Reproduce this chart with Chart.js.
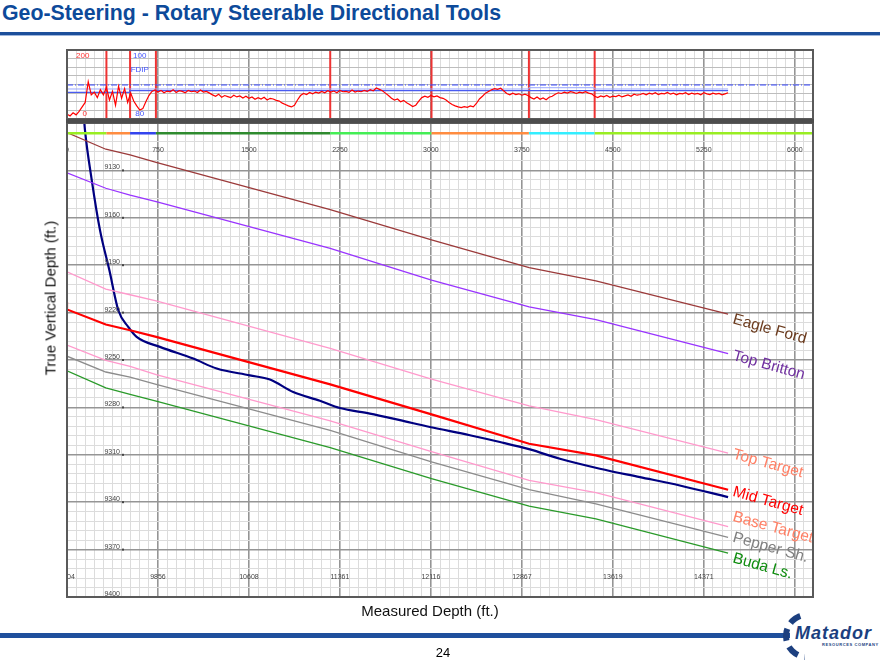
<!DOCTYPE html>
<html>
<head>
<meta charset="utf-8">
<script src="https://cdn.jsdelivr.net/npm/chart.js@4.4.0/dist/chart.umd.min.js"></script>
<style>
body { margin:0; width:880px; height:660px; background:#fff; position:relative; overflow:hidden; font-family: Arial, "Liberation Sans", sans-serif; }
.abs { position:absolute; }
#title { left:2px; top:1px; font-size:21.3px; font-weight:bold; color:#0d4a9a; white-space:nowrap; }
#titleLine { left:0; top:32px; width:880px; height:3px; background:#1d4f9b; }
#titleLine2 { left:0; top:35px; width:880px; height:1px; background:#9fb6dc; }
#trackBox { left:57px; top:40px; width:766px; height:89px; }
#mainBox { left:57px; top:113px; width:766px; height:494px; }
#band { left:66px; top:119px; width:748px; height:4px; background:#4d4d4d; }
#yTitle { left:50px; top:298px; transform: translate(-50%,-50%) rotate(-90deg); font-size:15px; white-space:nowrap; color:#111; }
#xTitle { left:430px; top:610px; transform: translate(-50%,-50%); font-size:15px; white-space:nowrap; color:#111; }
#footLine { left:0; top:633px; width:790px; height:5px; background:#1f4f9c; }
#pageNum { left:443px; top:652px; transform:translate(-50%,-50%); font-size:13px; }
#logoRing { left:783px; top:612px; width:36px; height:36px; border:6px dashed #1c3f7f; border-radius:50%; clip-path: inset(0 55% 0 0); }
#logoText { left:795px; top:623px; font-size:18px; font-weight:bold; font-style:italic; letter-spacing:1px; color:#1c3f7f; }
#logoSub { left:822px; top:642px; font-size:4px; font-weight:bold; letter-spacing:0.6px; color:#1c3f7f; white-space:nowrap; }
</style>
</head>
<body>
<div class="abs" id="title">Geo-Steering - Rotary Steerable Directional Tools</div>
<div class="abs" id="titleLine"></div>
<div class="abs" id="titleLine2"></div>

<div class="abs" id="mainBox"><canvas id="mainChart"></canvas></div>
<div class="abs" id="trackBox"><canvas id="trackChart"></canvas></div>
<div class="abs" id="band"></div>

<div class="abs" id="yTitle">True Vertical Depth (ft.)</div>
<div class="abs" id="xTitle">Measured Depth (ft.)</div>

<div class="abs" id="footLine"></div>
<div class="abs" id="pageNum">24</div>
<div class="abs" id="logoRing"></div>
<div class="abs" id="logoText">Matador</div>
<div class="abs" id="logoSub">RESOURCES COMPANY</div>

<script>
// ---------------- data ----------------

// axis ticks
var mdTicks = [0, 750, 1500, 2250, 3000, 3750, 4500, 5250, 6000];
var mdBottomLabels = ['9104', '9856', '10608', '11361', '12116', '12867', '13619', '14371'];
var tvdTicks = [9130, 9160, 9190, 9220, 9250, 9280, 9310, 9340, 9370, 9400];

// formation tops (first point is the little stub at the left edge)
var formMd = [0, 0, 320, 520, 735, 2170, 3005, 3810, 4360, 5450];
var eagleFord  = [9103.0, 9106.1, 9116.6, 9120.2, 9124.9, 9154.8, 9173.9, 9191.5, 9199.9, 9221.0];
var topBritton = [9126.6, 9131.5, 9141.3, 9145.6, 9149.8, 9179.4, 9199.5, 9216.4, 9224.4, 9245.9];
var topTarget  = [9189.3, 9194.2, 9205.2, 9208.7, 9212.6, 9242.6, 9262.1, 9279.1, 9287.7, 9308.9];
var midTarget  = [9213.2, 9218.0, 9227.5, 9231.2, 9235.4, 9265.4, 9284.4, 9303.0, 9310.4, 9332.1];
var baseTarget = [9236.2, 9240.6, 9250.2, 9254.0, 9259.2, 9288.6, 9308.0, 9326.2, 9334.0, 9355.4];
var pepperSh   = [9243.8, 9247.6, 9257.6, 9260.9, 9265.4, 9294.5, 9314.5, 9332.1, 9341.0, 9362.2];
var budaLs     = [9253.3, 9256.9, 9267.7, 9271.7, 9276.0, 9305.5, 9325.1, 9342.5, 9350.5, 9372.3];

var formNames  = ['Eagle Ford', 'Top Britton', 'Top Target', 'Mid Target', 'Base Target', 'Pepper Sh.', 'Buda Ls.'];
var formValues = [eagleFord, topBritton, topTarget, midTarget, baseTarget, pepperSh, budaLs];
var formLineColors = ['#9b3a3a', '#9933ff', '#ff99cc', '#ff0000', '#ff99cc', '#8c8c8c', '#2a9a2a'];
var formTextColors = ['#6b3b1e', '#7030a0', '#ff8066', '#ff0000', '#ff8066', '#7f7f7f', '#0e8c0e'];
var formWidths = [1.3, 1.3, 1.3, 2.2, 1.3, 1.3, 1.3];
// name labels sit a little off the line end (pixels, down is +)
var formLabelDy = [5, 2, 1, 2, -10, 0, 5];

// well path
var wellMd  = [128, 148, 204, 272, 349, 423, 505, 574, 766, 1041, 1234, 1508, 1673, 1865, 2085, 2250, 2497, 2745, 2992, 3321, 3569, 3816, 4063, 4393, 4723, 5052, 5450];
var wellTvd = [9085.4, 9104.4, 9136.1, 9167.8, 9193.1, 9218.5, 9229.1, 9235.4, 9241.7, 9249.1, 9255.4, 9259.7, 9262.4, 9270.3, 9275.8, 9280.4, 9283.9, 9288.1, 9292.4, 9297.6, 9301.9, 9306.6, 9312.5, 9318.8, 9324.1, 9329.4, 9336.8];

// zone breaks (red lines in the log track, coloured strip in the section)
var zoneMd = [0, 325, 520, 733, 2170, 3005, 3808, 4350, 6150];
var zoneColors = ['#99ee22', '#ff8c40', '#3344ee', '#2e8b2e', '#44ee55', '#ff8c40', '#33eeff', '#99ee22'];
var stripTvd = 9106.5;

// gamma ray, one reading every 25 ft from 0 to 5450
var gammaStep = 25;
var gammaValues = [
  14, 9, 18, 12, 22, 35, 48, 108, 70, 78, 62, 85, 70,
  92, 55, 80, 40, 95, 60, 88, 48, 75, 52, 38, 26, 30,
  50, 68, 80, 84,
  78, 83, 76, 81, 79, 85, 77, 82, 80, 76, 83, 79, 81, 77, 84, 78, 80, 75,
  70, 66, 72, 63, 68, 65, 62, 69, 64, 67, 61, 66,
  60, 64, 57, 62, 58, 63, 55, 60, 58, 54, 52,
  46, 42, 38, 35, 40,
  55, 68, 74, 71, 77, 73, 78, 75, 80, 76,
  82, 78, 81, 76, 83, 79, 80, 77, 84, 78, 81, 79, 83, 80, 85, 82,
  90, 86, 82, 75, 68,
  60, 55, 58, 50, 54, 47, 42,
  36, 40, 52,
  62, 66, 63, 68, 64, 67, 62, 60,
  55, 48, 42, 38, 35, 33, 36, 34, 38, 35,
  45, 58, 66, 75, 80, 85, 88, 86, 89, 82,
  74, 70, 75, 71, 73, 69, 72, 68,
  62, 58, 64, 57, 61, 56, 63, 66,
  72, 76, 74, 78, 75, 79, 77, 74, 78, 76, 79, 75, 73,
  66, 62, 67, 64, 68, 63, 66, 65, 69, 64, 67, 70, 66, 72, 69, 71,
  74, 70, 75, 72, 76, 71, 74, 73, 77, 72, 75, 70, 74, 73, 76, 71, 75, 72, 74, 70, 76, 73, 71, 75, 72, 74, 70, 73, 76
];

// formation dip track
var fdipRefMd = [0, 6150];
var fdipRef = [89.86, 89.86];
var fdipUpperMd = [0, 3808, 4346, 5450];
var fdipUpper = [88.70, 89.07, 88.70, 88.70];
var fdipLowerMd = [0, 519, 5450];
var fdipLower = [87.74, 88.20, 88.20];

// ------------------------------------------------------------

function pairs(xs, ys) {
  var out = [];
  for (var i = 0; i < xs.length; i++) out.push({x: xs[i], y: ys[i]});
  return out;
}

function isMajor(v, base, every) {
  var r = (v - base) / every;
  return Math.abs(r - Math.round(r)) < 1e-6;
}

function clipArea(ctx, area) {
  ctx.beginPath();
  ctx.rect(area.left, area.top, area.right - area.left, area.bottom - area.top);
  ctx.clip();
}

var xScaleOpts = {
  type: 'linear', min: 0, max: 6150,
  ticks: { display: false, stepSize: 75 },
  grid: {
    drawTicks: false,
    color: function(c) { return isMajor(c.tick.value, 0, 750) ? '#959595' : '#dcdcdc'; },
    lineWidth: function(c) { return isMajor(c.tick.value, 0, 750) ? 1.6 : 1; }
  },
  border: { display: false },
  afterFit: function(s) { s.height = 0; }
};

// ---- main section chart ----
var mainDatasets = [];
mainDatasets.push({
  data: pairs(zoneMd, zoneMd.map(function(){ return stripTvd; })),
  borderWidth: 2.5,
  segment: { borderColor: function(c) { return zoneColors[c.p0DataIndex]; } },
  borderColor: zoneColors[0]
});
var formIndex = [];
for (var f = 0; f < formNames.length; f++) {
  formIndex.push(mainDatasets.length);
  mainDatasets.push({
    data: pairs(formMd, formValues[f]),
    borderColor: formLineColors[f],
    borderWidth: formWidths[f]
  });
}
mainDatasets.push({
  data: pairs(wellMd, wellTvd),
  borderColor: '#000080',
  borderWidth: 2.2,
  cubicInterpolationMode: 'monotone'
});

var mainOverlay = {
  id: 'mainOverlay',
  afterDatasetsDraw: function(chart) {
    var ctx = chart.ctx, area = chart.chartArea;
    var xs = chart.scales.x, ys = chart.scales.y;
    ctx.save();
    clipArea(ctx, area);
    ctx.fillStyle = '#444';
    ctx.font = '7px Arial';
    ctx.textAlign = 'right';
    ctx.textBaseline = 'alphabetic';
    tvdTicks.forEach(function(v) {
      var y = ys.getPixelForValue(v);
      ctx.fillText(String(v), area.left + 53, y - 1);
      ctx.fillRect(area.left + 55, y - 1, 2, 2);
    });
    ctx.textAlign = 'center';
    ctx.textBaseline = 'middle';
    mdTicks.forEach(function(v, i) {
      var x = xs.getPixelForValue(v);
      ctx.fillText(String(v), x, area.top + 27);
      if (i < mdBottomLabels.length) ctx.fillText(mdBottomLabels[i], x, area.bottom - 20);
    });
    // formation names at the end of each line
    ctx.font = '15.5px Arial';
    ctx.textAlign = 'left';
    formIndex.forEach(function(di, i) {
      var pts = chart.getDatasetMeta(di).data;
      var p = pts[pts.length - 1];
      ctx.save();
      ctx.translate(p.x + 5, p.y + formLabelDy[i]);
      ctx.rotate(0.27);
      ctx.fillStyle = formTextColors[i];
      ctx.fillText(formNames[i], 0, 0);
      ctx.restore();
    });
    ctx.restore();
    ctx.save();
    ctx.strokeStyle = '#5a5a5a';
    ctx.lineWidth = 2;
    ctx.strokeRect(area.left, area.top, area.right - area.left, area.bottom - area.top);
    ctx.restore();
  }
};

new Chart(document.getElementById('mainChart'), {
  type: 'line',
  data: { datasets: mainDatasets },
  options: {
    responsive: true,
    maintainAspectRatio: false,
    animation: false,
    layout: { padding: 10 },
    elements: { point: { radius: 0 }, line: { tension: 0 } },
    plugins: { legend: { display: false }, tooltip: { enabled: false } },
    scales: {
      x: xScaleOpts,
      y: {
        type: 'linear', reverse: true, min: 9100, max: 9400,
        ticks: { display: false, stepSize: 6 },
        grid: {
          drawTicks: false,
          color: function(c) { return isMajor(c.tick.value, 9100, 30) ? '#959595' : '#dcdcdc'; },
          lineWidth: function(c) { return isMajor(c.tick.value, 9100, 30) ? 1.6 : 1; }
        },
        border: { display: false },
        afterFit: function(s) { s.width = 0; }
      }
    }
  },
  plugins: [mainOverlay]
});

// ---- log track chart ----
var gammaData = gammaValues.map(function(g, i) { return {x: i * gammaStep, y: g}; });

var trackOverlay = {
  id: 'trackOverlay',
  beforeDatasetsDraw: function(chart) {
    var ctx = chart.ctx, area = chart.chartArea, xs = chart.scales.x;
    ctx.save();
    ctx.strokeStyle = '#ee3333';
    ctx.lineWidth = 2;
    zoneMd.slice(0, zoneMd.length - 1).forEach(function(md) {
      var x = xs.getPixelForValue(md);
      ctx.beginPath();
      ctx.moveTo(x, area.top);
      ctx.lineTo(x, area.bottom);
      ctx.stroke();
    });
    ctx.restore();
  },
  afterDatasetsDraw: function(chart) {
    var ctx = chart.ctx, area = chart.chartArea, xs = chart.scales.x;
    ctx.save();
    ctx.font = '8px Arial';
    ctx.textAlign = 'center';
    ctx.textBaseline = 'middle';
    var xg = xs.getPixelForValue(130), xd = xs.getPixelForValue(600);
    ctx.fillStyle = '#ff3333';
    ctx.fillText('200', xg, area.top + 6);
    ctx.fillText('0', xg + 2, area.bottom - 5);
    ctx.fillStyle = '#4455ff';
    ctx.fillText('100', xd, area.top + 6);
    ctx.fillText('FDIP', xd, area.top + 20);
    ctx.fillText('80', xd, area.bottom - 5);
    ctx.strokeStyle = '#5a5a5a';
    ctx.lineWidth = 2;
    ctx.strokeRect(area.left, area.top, area.right - area.left, area.bottom - area.top);
    ctx.restore();
  }
};

new Chart(document.getElementById('trackChart'), {
  type: 'line',
  data: {
    datasets: [
      { data: gammaData, borderColor: '#ff0000', borderWidth: 1.2, yAxisID: 'y' },
      { data: pairs(fdipRefMd, fdipRef), borderColor: '#3344ff', borderWidth: 1, borderDash: [6, 2, 1, 2], yAxisID: 'yDip' },
      { data: pairs(fdipUpperMd, fdipUpper), borderColor: '#9aa8ff', borderWidth: 1, stepped: 'before', yAxisID: 'yDip' },
      { data: pairs(fdipLowerMd, fdipLower), borderColor: '#4a5cf0', borderWidth: 1.2, stepped: 'before', yAxisID: 'yDip' }
    ]
  },
  options: {
    responsive: true,
    maintainAspectRatio: false,
    animation: false,
    layout: { padding: 10 },
    elements: { point: { radius: 0 }, line: { tension: 0 } },
    plugins: { legend: { display: false }, tooltip: { enabled: false } },
    scales: {
      x: xScaleOpts,
      y: {
        type: 'linear', min: 0, max: 200,
        ticks: { display: false, stepSize: 25 },
        grid: { drawTicks: false, color: '#bdbdbd', lineWidth: 1 },
        border: { display: false },
        afterFit: function(s) { s.width = 0; }
      },
      yDip: {
        type: 'linear', min: 80, max: 100, display: false
      }
    }
  },
  plugins: [trackOverlay]
});
</script>
</body>
</html>
